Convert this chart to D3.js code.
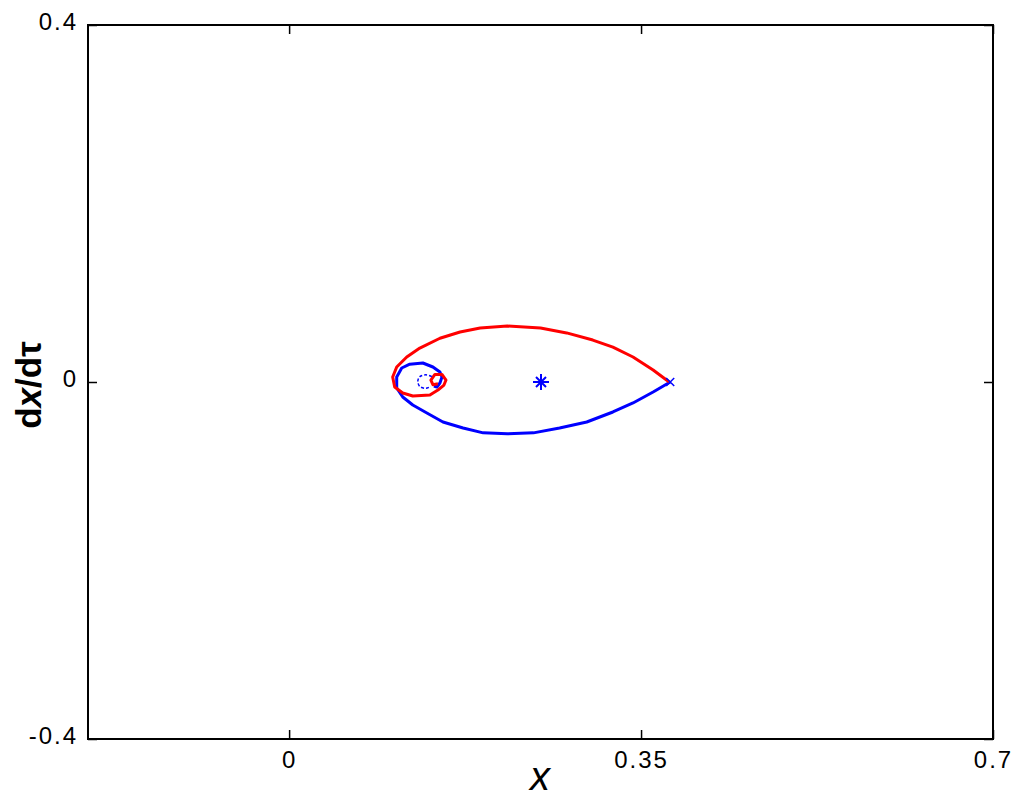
<!DOCTYPE html>
<html><head><meta charset="utf-8">
<script src="https://cdn.jsdelivr.net/npm/d3@7"></script>
<style>body{margin:0;background:#fff}svg{display:block}</style>
</head><body>
<svg id="c" width="1024" height="805"></svg>
<script>
const xTicks = [0, 0.35, 0.7];
const yTicks = [-0.4, 0, 0.4];
const xTickLabels = ["0", "0.35", "0.7"];
const yTickLabels = ["-0.4", "0", "0.4"];

// red trajectory (upper branch into inner loop)
const redX = [0.378,0.362,0.342,0.322,0.302,0.276,0.250,0.217,0.190,0.170,0.150,0.130,0.117,0.107,0.103,0.105,0.113,0.123,0.140,0.148,0.154,0.156,0.152,0.145,0.141,0.143,0.148];
const redY = [0.000,0.0134,0.028,0.039,0.047,0.055,0.0605,0.0627,0.0605,0.056,0.049,0.038,0.028,0.0168,0.0056,-0.0056,-0.0123,-0.0157,-0.0146,-0.009,-0.0034,0.0022,0.0085,0.0085,0.0022,-0.003,-0.002];

// blue trajectory (lower branch into inner loop)
const blueX = [0.379,0.362,0.342,0.322,0.296,0.269,0.243,0.217,0.193,0.173,0.153,0.137,0.123,0.113,0.107,0.107,0.112,0.120,0.133,0.143,0.150,0.152,0.150,0.147,0.144];
const blueY = [0.000,-0.0112,-0.0235,-0.0336,-0.0448,-0.0515,-0.057,-0.058,-0.057,-0.0515,-0.0448,-0.0347,-0.0258,-0.0168,-0.0067,0.0056,0.0157,0.020,0.0213,0.0168,0.0112,0.0056,-0.0011,-0.0056,-0.0045];

// dashed blue small loop
const dashX = [0.142,0.136,0.130,0.128,0.130,0.136,0.141];
const dashY = [0.006,0.008,0.006,0.001,-0.005,-0.007,-0.005];

// markers
const starPt = [0.2505, 0.0];
const crossPt = [0.379, 0.0];

const svg = d3.select("#c");
const L=88,R=993,T=25,B=739;
const x = d3.scaleLinear().domain([-0.2,0.7]).range([L,R]);
const y = d3.scaleLinear().domain([-0.4,0.4]).range([B,T]);
const font = "'Liberation Sans', Arial, sans-serif";

// frame
svg.append("rect").attr("x",L).attr("y",T).attr("width",R-L).attr("height",B-T)
  .attr("fill","none").attr("stroke","#000").attr("stroke-width",2);

// bottom axis
const gb = svg.append("g").attr("transform",`translate(0,${B})`)
  .call(d3.axisBottom(x).tickValues(xTicks).tickSize(-9).tickPadding(12).tickFormat((d,i)=>xTickLabels[i]));
// top ticks
const gt = svg.append("g").attr("transform",`translate(0,${T})`)
  .call(d3.axisTop(x).tickValues(xTicks).tickSize(-9).tickFormat(""));
// left axis
const gl = svg.append("g").attr("transform",`translate(${L},0)`)
  .call(d3.axisLeft(y).tickValues(yTicks).tickSize(-9).tickPadding(10).tickFormat((d,i)=>yTickLabels[i]));
// right ticks
const gr = svg.append("g").attr("transform",`translate(${R},0)`)
  .call(d3.axisRight(y).tickValues(yTicks).tickSize(-9).tickFormat(""));
[gb,gt,gl,gr].forEach(g=>{
  g.select(".domain").remove();
  g.selectAll(".tick line").attr("stroke","#000").attr("stroke-width",1.5);
  g.selectAll("text").attr("font-family",font).attr("font-size",24).attr("fill","#000").attr("letter-spacing",2);
});
gl.selectAll("text").attr("dy","0.2em");

const line = d3.line().x(d=>x(d[0])).y(d=>y(d[1])).curve(d3.curveLinear);
const zipP = (a,b)=>a.map((v,i)=>[v,b[i]]);

svg.append("path").datum(zipP(blueX,blueY)).attr("d",line)
  .attr("fill","none").attr("stroke","#0000ff").attr("stroke-width",3).attr("stroke-linejoin","round");
svg.append("path").datum(zipP(redX,redY)).attr("d",line)
  .attr("fill","none").attr("stroke","#ff0000").attr("stroke-width",3).attr("stroke-linejoin","round");
svg.append("path").datum(zipP(dashX,dashY)).attr("d",line.curve(d3.curveCatmullRom))
  .attr("fill","none").attr("stroke","#0000ff").attr("stroke-width",1.5).attr("stroke-dasharray","3,2");

// asterisk marker
const sx=x(starPt[0]), sy=y(starPt[1]), s=8, sd=5;
svg.append("path")
  .attr("d",`M${sx-s},${sy}H${sx+s}M${sx},${sy-s}V${sy+s}M${sx-sd},${sy-sd}L${sx+sd},${sy+sd}M${sx-sd},${sy+sd}L${sx+sd},${sy-sd}`)
  .attr("stroke","#0000ff").attr("stroke-width",2).attr("fill","none");
// x marker
const cx=x(crossPt[0]), cy=y(crossPt[1]), c=4;
svg.append("path")
  .attr("d",`M${cx-c},${cy-c}L${cx+c},${cy+c}M${cx-c},${cy+c}L${cx+c},${cy-c}`)
  .attr("stroke","#0000ff").attr("stroke-width",1.5).attr("fill","none");

// axis labels
svg.append("text").attr("x",540).attr("y",790).attr("text-anchor","middle")
  .attr("font-family",font).attr("font-style","italic").attr("font-size",40).text("x");
svg.append("text").attr("transform","translate(41,385) rotate(-90)").attr("text-anchor","middle")
  .attr("font-family",font).attr("font-weight","bold").attr("font-size",35)
  .html('d<tspan font-style="italic">x</tspan>/dτ');
</script>
</body></html>
